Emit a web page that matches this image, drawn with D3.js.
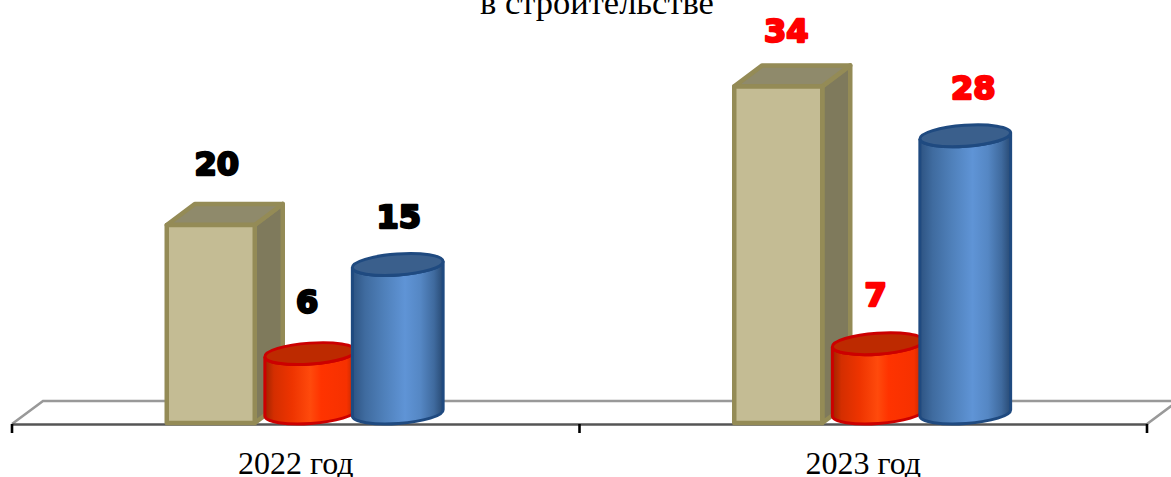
<!DOCTYPE html>
<html><head><meta charset="utf-8">
<script src="https://cdn.jsdelivr.net/npm/d3@7"></script>
<style>html,body{margin:0;padding:0;background:#fff;overflow:hidden}svg{display:block}</style>
</head><body>
<script>
const categories = ["2022 год", "2023 год"];
const seriesNames = ["Серия 1", "Серия 2", "Серия 3"];
const series1 = [20, 34];
const series2 = [6, 7];
const series3 = [15, 28];
const labelColors = ["#000000", "#ff0000"];
const titleLine = "в строительстве";

const W = 1171, H = 477;
const svg = d3.select("body").append("svg").attr("width", W).attr("height", H);
const defs = svg.append("defs");
function grad(id, stops){
  const g = defs.append("linearGradient").attr("id", id).attr("x1","0").attr("x2","1").attr("y1","0").attr("y2","0");
  stops.forEach(([o,c])=>g.append("stop").attr("offset",o).attr("stop-color",c));
}
grad("red", [[0,"#a02400"],[0.1,"#d42e00"],[0.3,"#ee3400"],[0.5,"#ff4a0c"],[0.62,"#ff3300"],[0.9,"#f63100"],[1,"#b82800"]]);
grad("blue",[[0,"#2d5382"],[0.14,"#3f6b9f"],[0.35,"#4f80ba"],[0.58,"#5f94d6"],[0.75,"#5587c4"],[0.9,"#3f6a9e"],[1,"#284a74"]]);

const x0 = d3.scaleBand().domain(categories).range([12, 1147]);
const offset = d3.scaleOrdinal(seriesNames, [-85, 14.5, 102]);
const y = d3.scaleLinear().domain([0, 40]).range([423, 423 - 396]);

// floor
const base = 424, back = 401, dx = 31;
const floor = svg.append("g");
floor.append("path").attr("fill","none").attr("stroke","#999").attr("stroke-width",2.6)
  .attr("d",`M12,${base}L${12+dx},${back}H1147L${1147+dx},${back}M1147,${base}L${1147+dx},${back}`);

// axis
const axis = d3.axisBottom(x0).tickSize(0).tickPadding(27);
const ag = svg.append("g").attr("transform",`translate(0,${base})`).call(axis);
ag.select(".domain").attr("stroke","#555").attr("stroke-width",2.6);
ag.selectAll("text").attr("font-family","'Liberation Serif'").attr("font-size",32).attr("fill","#000");
ag.selectAll("line.edge").data([...x0.domain().map(c=>x0(c)), x0.range()[1]]).join("line").attr("class","edge")
  .attr("x1",d=>d).attr("x2",d=>d).attr("y1",0).attr("y2",9).attr("stroke","#000").attr("stroke-width",2.6);

// title
svg.append("text").attr("x",597).attr("y",14).attr("text-anchor","middle")
  .attr("font-family","'Liberation Serif'").attr("font-size",34.5).attr("fill","#000").text(titleLine);

function box(cx, v){
  const top = y(v), b = y(0), w = 88, d = 28, h = 21, l = cx - w/2, r = cx + w/2;
  const g = svg.append("g").attr("stroke","#948b56").attr("stroke-width",4.5).attr("stroke-linejoin","round");
  g.append("path").attr("fill","#7f7a5c").attr("d",`M${r},${top}L${r+d},${top-h}V${b-h}L${r},${b}Z`);
  g.append("path").attr("fill","#8f8a6b").attr("d",`M${l},${top}L${l+d},${top-h}H${r+d}L${r},${top}Z`);
  g.append("rect").attr("fill","#c4bc94").attr("x",l).attr("y",top).attr("width",w).attr("height",b-top);
}
function cylinder(cx, v, col, stroke, topFill){
  const rx = 45.5, ry = 10.5, tilt = 4, t = tilt*Math.PI/180;
  const ox = rx*Math.cos(t), oy = rx*Math.sin(t);
  const bc = y(0) - 10, tc = y(v) - 10;
  const g = svg.append("g").attr("stroke",stroke).attr("stroke-width",3);
  g.append("path").attr("fill",`url(#${col})`)
    .attr("d",`M${cx-ox},${tc+oy}L${cx-ox},${bc+oy}A${rx},${ry} ${-tilt} 0 0 ${cx+ox},${bc-oy}L${cx+ox},${tc-oy}A${rx},${ry} ${-tilt} 0 1 ${cx-ox},${tc+oy}Z`);
  g.append("ellipse").attr("fill",topFill).attr("rx",rx).attr("ry",ry)
    .attr("transform",`translate(${cx},${tc}) rotate(${-tilt})`);
}
const centre = c => x0(c) + x0.bandwidth()/2;
categories.forEach((c,i)=>box(centre(c)+offset(seriesNames[0]), series1[i]));
categories.forEach((c,i)=>cylinder(centre(c)+offset(seriesNames[1]), series2[i], "red", "#cc0000", "#bd2a00"));
categories.forEach((c,i)=>cylinder(centre(c)+offset(seriesNames[2]), series3[i], "blue", "#1f4a80", "#3a5f8c"));

// labels
function label(cx, yy, v, col){
  svg.append("text").attr("x",cx).attr("y",yy).attr("text-anchor","middle")
    .attr("font-family","'DejaVu Sans'").attr("font-weight","bold").attr("font-size",32)
    .attr("fill",col).attr("stroke",col).attr("stroke-width",2.4).attr("stroke-linejoin","round").text(v);
}
const nudge = [[[6,-50],[-3,-51],[1,-47]],[[8,-44],[-2,-48],[8,-47]]];
categories.forEach((c,i)=>{
  const col = labelColors[i], m = centre(c);
  [series1, series2, series3].forEach((s,k)=>{
    label(m+offset(seriesNames[k])+nudge[i][k][0], y(s[i])+nudge[i][k][1], s[i], col);
  });
});
</script>
</body></html>
